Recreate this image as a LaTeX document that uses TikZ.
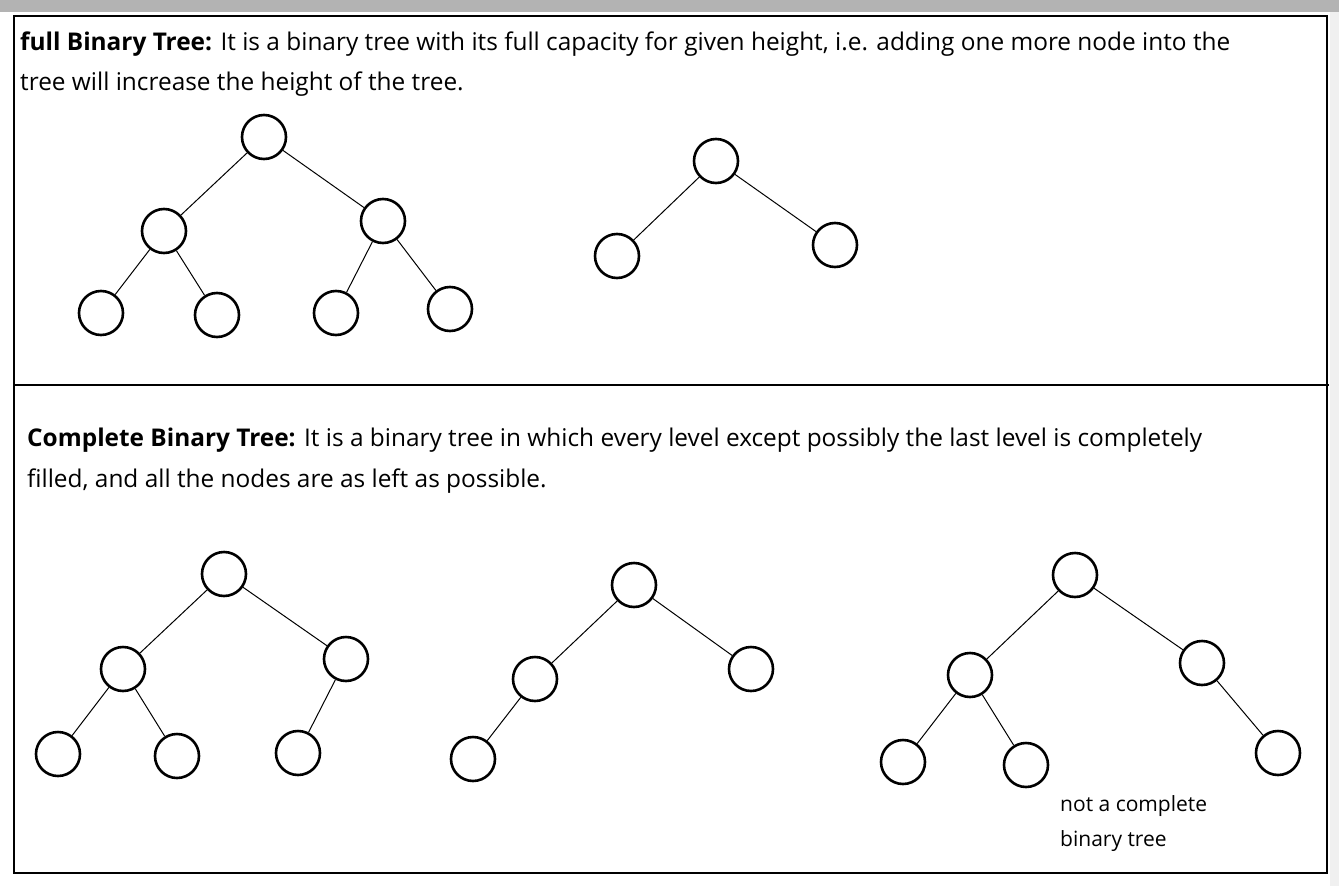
\documentclass[tikz,border=0pt]{standalone}
\usepackage{fontspec}
\setmainfont{Open Sans}
\usetikzlibrary{positioning}
\definecolor{barGray}{HTML}{B3B3B3}
\definecolor{sideGray}{HTML}{F0F0F0}
\tikzset{
  tnode/.style = {circle, draw=black, line width=2.6pt, minimum size=44pt,
    inner sep=0pt},
  tedge/.style = {line width=1pt, draw=black},
  frame/.style = {line width=2.6pt, draw=black},
  txt/.style = {anchor=base west, inner sep=0pt, font=\fontsize{24.4}{28}\selectfont},
  note/.style = {anchor=base west, inner sep=0pt, font=\fontsize{21}{25}\selectfont},
}
\begin{document}
\begin{tikzpicture}[x=1pt, y=-1pt]
\useasboundingbox (0,0) rectangle (1339,886);
\fill[white] (0,0) rectangle (1339,886);
\fill[barGray] (0,0) rectangle (1339,12);
\fill[sideGray] (1330,12) rectangle (1339,886);

% frame
\draw[frame] (14,16) rectangle (1327,873);
\draw[frame] (14,385) -- (1329,385);

% texts
\node[txt] (t1) at (20,50) {\textbf{full Binary Tree:} It is a binary tree with its full capacity for given height, i.e. adding one more node into the};
\node[txt] (t2) at (20,90) {tree will increase the height of the tree.};
\node[txt] (t3) at (27,446) {\textbf{Complete Binary Tree:} It is a binary tree in which every level except possibly the last level is completely};
\node[txt] (t4) at (27,487) {filled, and all the nodes are as left as possible.};
\node[note] (t5) at (1060,811) {not a complete};
\node[note] (t6) at (1060,846) {binary tree};

% full tree
\node[tnode] (f1) at (264,137) {};
\node[tnode] (f2) at (164,231) {};
\node[tnode] (f3) at (383,221) {};
\node[tnode] (f4) at (101,313) {};
\node[tnode] (f5) at (217,315) {};
\node[tnode] (f6) at (336,313) {};
\node[tnode] (f7) at (450,309) {};
\draw[tedge] (f1) -- (f2);
\draw[tedge] (f1) -- (f3);
\draw[tedge] (f2) -- (f4);
\draw[tedge] (f2) -- (f5);
\draw[tedge] (f3) -- (f6);
\draw[tedge] (f3) -- (f7);

% small full tree
\node[tnode] (g1) at (716,161) {};
\node[tnode] (g2) at (617,256) {};
\node[tnode] (g3) at (835,245) {};
\draw[tedge] (g1) -- (g2);
\draw[tedge] (g1) -- (g3);

% complete tree
\node[tnode] (c1) at (224,574) {};
\node[tnode] (c2) at (123,669) {};
\node[tnode] (c3) at (346,659) {};
\node[tnode] (c4) at (58,754) {};
\node[tnode] (c5) at (177,756) {};
\node[tnode] (c6) at (298,753) {};
\draw[tedge] (c1) -- (c2);
\draw[tedge] (c1) -- (c3);
\draw[tedge] (c2) -- (c4);
\draw[tedge] (c2) -- (c5);
\draw[tedge] (c3) -- (c6);

% complete tree 2
\node[tnode] (d1) at (634,585) {};
\node[tnode] (d2) at (535,679) {};
\node[tnode] (d3) at (751,669) {};
\node[tnode] (d4) at (473,759) {};
\draw[tedge] (d1) -- (d2);
\draw[tedge] (d1) -- (d3);
\draw[tedge] (d2) -- (d4);

% not complete
\node[tnode] (n1) at (1075,575) {};
\node[tnode] (n2) at (970,675) {};
\node[tnode] (n3) at (1202,663) {};
\node[tnode] (n4) at (903,762) {};
\node[tnode] (n5) at (1026,765) {};
\node[tnode] (n6) at (1278,753) {};
\draw[tedge] (n1) -- (n2);
\draw[tedge] (n1) -- (n3);
\draw[tedge] (n2) -- (n4);
\draw[tedge] (n2) -- (n5);
\draw[tedge] (n3) -- (n6);

\end{tikzpicture}
\end{document}
